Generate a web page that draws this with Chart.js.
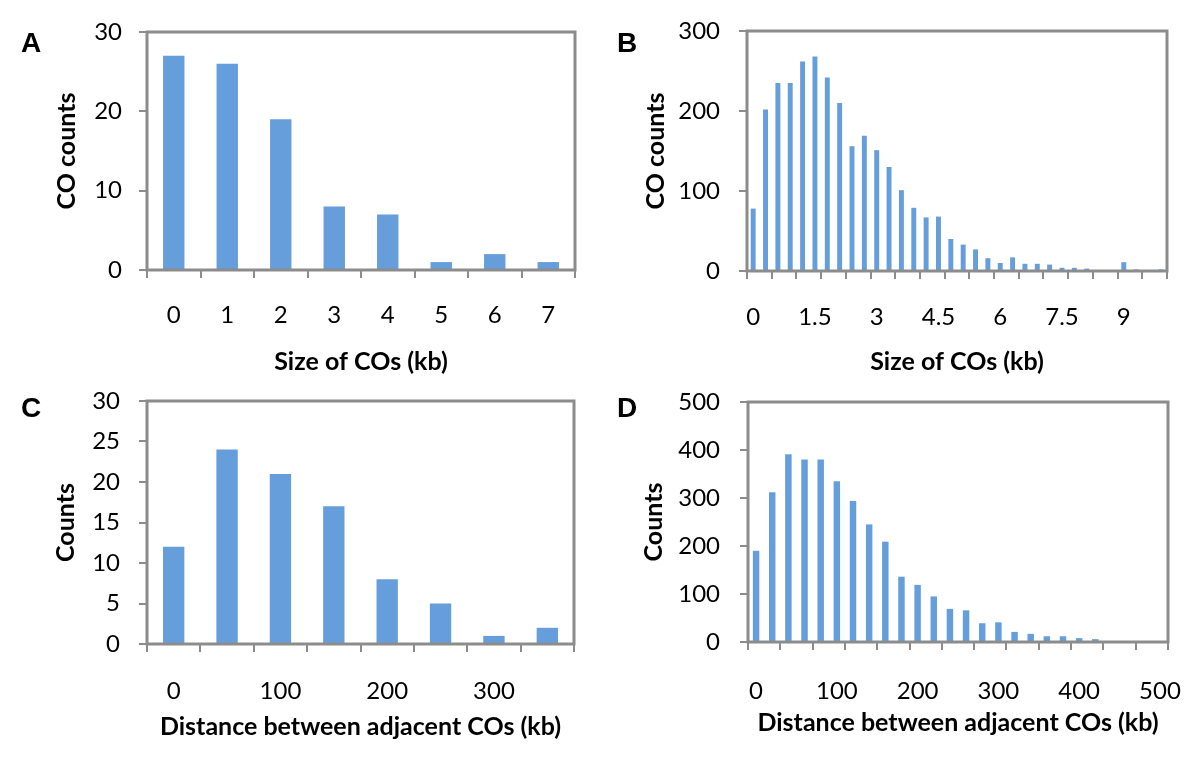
<!DOCTYPE html>
<html>
<head>
<meta charset="utf-8">
<script src="https://cdn.jsdelivr.net/npm/chart.js@4.4.0/dist/chart.umd.min.js"></script>
<style>
  body { margin: 0; background: #fff; width: 1200px; height: 769px; position: relative; overflow: hidden; }
  .panel { position: absolute; }
  .letter { position: absolute; font-family: "Liberation Sans", Arial, sans-serif; font-weight: bold; font-size: 28px; line-height: 28px; color: #000; }
</style>
</head>
<body>
<div class="panel" style="left:0;top:0;width:600px;height:385px"><canvas id="chartA"></canvas></div>
<div class="panel" style="left:600px;top:0;width:600px;height:385px"><canvas id="chartB"></canvas></div>
<div class="panel" style="left:0;top:385px;width:600px;height:384px"><canvas id="chartC"></canvas></div>
<div class="panel" style="left:600px;top:385px;width:600px;height:384px"><canvas id="chartD"></canvas></div>
<div class="letter" style="left:21px;top:29px">A</div>
<div class="letter" style="left:617px;top:29px">B</div>
<div class="letter" style="left:21px;top:394px">C</div>
<div class="letter" style="left:617px;top:394px">D</div>
<script>
// A: size of COs, 1 kb bins
const binsA = ['0', '1', '2', '3', '4', '5', '6', '7'];
const countsA = [27, 26, 19, 8, 7, 1, 2, 1];
const xTicksA = ['0', '1', '2', '3', '4', '5', '6', '7'];
const yTicksA = [0, 10, 20, 30];

// B: size of COs, 0.3 kb bins
const binsB = ['0', '0.3', '0.6', '0.9', '1.2', '1.5', '1.8', '2.1', '2.4', '2.7',
  '3', '3.3', '3.6', '3.9', '4.2', '4.5', '4.8', '5.1', '5.4', '5.7',
  '6', '6.3', '6.6', '6.9', '7.2', '7.5', '7.8', '8.1', '8.4', '8.7',
  '9', '9.3', '9.6', '9.9'];
const countsB = [78, 202, 235, 235, 262, 268, 242, 210, 156, 169,
  151, 130, 101, 79, 67, 68, 40, 33, 27, 16,
  10, 17, 9, 9, 8, 4, 4, 3, 0, 0,
  11, 2, 0, 2];
const xTicksB = ['0', '1.5', '3', '4.5', '6', '7.5', '9'];
const yTicksB = [0, 100, 200, 300];

// C: distance between adjacent COs, 50 kb bins
const binsC = ['0', '50', '100', '150', '200', '250', '300', '350'];
const countsC = [12, 24, 21, 17, 8, 5, 1, 2];
const xTicksC = ['0', '100', '200', '300'];
const yTicksC = [0, 5, 10, 15, 20, 25, 30];

// D: distance between adjacent COs, 20 kb bins
const binsD = ['0', '20', '40', '60', '80', '100', '120', '140', '160', '180',
  '200', '220', '240', '260', '280', '300', '320', '340', '360', '380',
  '400', '420', '440', '460', '480', '500'];
const countsD = [190, 312, 391, 380, 380, 335, 294, 245, 209, 136,
  119, 95, 69, 66, 39, 41, 21, 17, 12, 12,
  8, 6, 1, 0, 0, 0];
const xTicksD = ['0', '100', '200', '300', '400', '500'];
const yTicksD = [0, 100, 200, 300, 400, 500];

const barColor = '#669edb';
const axisGray = '#8c8c8c';

// box around the plot area
const framePlugin = {
  id: 'frame',
  afterDatasetsDraw(chart) {
    const { ctx, chartArea: a } = chart;
    ctx.save();
    ctx.strokeStyle = axisGray;
    ctx.lineWidth = 3;
    ctx.strokeRect(a.left, a.top, a.right - a.left, a.bottom - a.top);
    ctx.restore();
  }
};

const makePanel = (id, bins, counts, xTicks, yTicks, xTitle, yTitle, p) => {
  const labelFont = { family: 'Lato, sans-serif', size: 24 };
  const titleFont = { family: 'Lato, sans-serif', size: 25, weight: 'bold' };
  return new Chart(document.getElementById(id), {
    type: 'bar',
    data: {
      labels: bins,
      datasets: [{
        data: counts,
        backgroundColor: barColor,
        categoryPercentage: 1,
        barPercentage: 0.4
      }]
    },
    options: {
      responsive: true,
      maintainAspectRatio: false,
      animation: false,
      layout: { padding: { top: p.top, right: p.right, left: 0, bottom: 0 } },
      plugins: { legend: { display: false }, tooltip: { enabled: false } },
      scales: {
        x: {
          border: { display: false },
          grid: {
            drawOnChartArea: false,
            tickLength: 8,
            lineWidth: 2,
            tickColor: (c) => (c.index === undefined || c.index % p.tickEvery === 0) ? axisGray : 'rgba(0,0,0,0)'
          },
          ticks: {
            autoSkip: false,
            maxRotation: 0,
            padding: p.xPad,
            color: '#000',
            font: labelFont,
            callback: function (v) {
              const lab = this.getLabelForValue(v);
              return xTicks.includes(lab) ? lab : '';
            }
          },
          title: { display: true, text: xTitle, color: '#000', font: titleFont, padding: { top: 0, bottom: p.xTitlePad } },
          afterFit: (s) => { s.height = p.xh; s.paddingLeft = 0; s.paddingRight = 0; }
        },
        y: {
          min: yTicks[0],
          max: yTicks[yTicks.length - 1],
          border: { display: false },
          grid: { drawOnChartArea: false, tickLength: 8, lineWidth: 2, tickColor: axisGray },
          ticks: { stepSize: yTicks[1] - yTicks[0], padding: p.yPad, color: '#000', font: labelFont },
          title: { display: true, text: yTitle, color: '#000', font: titleFont, padding: { top: p.yTitlePad, bottom: 0 } },
          afterFit: (s) => { s.width = p.yw; s.paddingTop = 0; s.paddingBottom = 0; }
        }
      }
    },
    plugins: [framePlugin]
  });
};

makePanel('chartA', binsA, countsA, xTicksA, yTicksA, 'Size of COs (kb)', 'CO counts',
  { top: 32, right: 25, yw: 147, xh: 115, tickEvery: 1, xPad: 23, yPad: 17, xTitlePad: 8, yTitlePad: 52 });
makePanel('chartB', binsB, countsB, xTicksB, yTicksB, 'Size of COs (kb)', 'CO counts',
  { top: 31, right: 33, yw: 147, xh: 114, tickEvery: 2, xPad: 24, yPad: 19, xTitlePad: 8, yTitlePad: 41 });
makePanel('chartC', binsC, countsC, xTicksC, yTicksC, 'Distance between adjacent COs (kb)', 'Counts',
  { top: 16, right: 26, yw: 147, xh: 125, tickEvery: 1, xPad: 25, yPad: 19, xTitlePad: 27, yTitlePad: 51 });
makePanel('chartD', binsD, countsD, xTicksD, yTicksD, 'Distance between adjacent COs (kb)', 'Counts',
  { top: 17, right: 32, yw: 148, xh: 127, tickEvery: 2, xPad: 27, yPad: 20, xTitlePad: 31, yTitlePad: 39 });
</script>
</body>
</html>
